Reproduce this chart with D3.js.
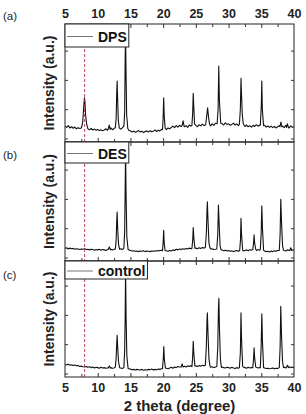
<!DOCTYPE html>
<html>
<head>
<meta charset="utf-8">
<script src="https://cdn.jsdelivr.net/npm/d3@7"></script>
<style>
  body { margin: 0; background: #fff; }
  text { font-family: "Liberation Sans", Arial, sans-serif; }
</style>
</head>
<body>
<svg id="chart"></svg>
<script>
// ---- data ----
const seriesNames = ['DPS', 'DES', 'control'];
const panelLetters = ['(a)', '(b)', '(c)'];
const xMajorTicks = [5, 10, 15, 20, 25, 30, 35, 40];
const xMinorTicks = [7.5, 12.5, 17.5, 22.5, 27.5, 32.5, 37.5];
const yTicks = [0, 1, 2, 3];
const markerTheta = 8;

// baseline intensity, one value every 0.25 deg from 5 to 40
const baseStart = 5, baseStep = 0.25;

const dpsBase = [
  .42,.38,.44,.36,.40,.35,.39,.33,.37,.34,.36,.40,.45,.38,.33,.30,.34,.29,.32,.28,
  .31,.27,.30,.26,.29,.33,.28,.31,.36,.30,.34,.40,.33,.29,.32,.36,.40,.38,.33,.28,
  .26,.22,.25,.21,.24,.27,.22,.25,.20,.24,.26,.22,.27,.23,.25,.29,.24,.28,.26,.31,
  .35,.32,.30,.36,.33,.38,.42,.37,.44,.39,.45,.41,.47,.40,.44,.38,.46,.42,.48,.43,
  .45,.40,.47,.43,.49,.44,.50,.46,.48,.43,.50,.45,.52,.47,.49,.44,.51,.46,.53,.48,
  .50,.45,.48,.52,.46,.50,.44,.49,.43,.47,.41,.46,.40,.44,.39,.45,.41,.47,.42,.46,
  .44,.40,.45,.39,.43,.38,.42,.37,.41,.36,.40,.44,.38,.42,.37,.45,.40,.36,.43,.38,
  .40
];
const dpsPeaks = [
  [[7.55,.40],[7.7,.55],[7.8,.85],[7.9,1.2],[7.97,1.39],[8.05,1.25],[8.15,.8],[8.3,.5],[8.45,.38]],
  [[11.6,.32],[11.75,.46],[11.9,.31]],
  [[12.7,.38],[12.82,.7],[12.9,1.5],[12.97,1.96],[13.05,1.3],[13.15,.6],[13.3,.36]],
  [[14.0,.42],[14.12,.9],[14.2,2.8],[14.26,3.5],[14.32,2.4],[14.42,.8],[14.6,.34]],
  [[19.9,.30],[20.0,.7],[20.08,1.39],[20.16,.8],[20.3,.36]],
  [[22.9,.44],[23.05,.6],[23.2,.42]],
  [[24.4,.45],[24.52,.9],[24.6,1.54],[24.68,1.1],[24.8,.5]],
  [[26.5,.47],[26.65,.75],[26.8,1.05],[26.95,.7],[27.1,.48]],
  [[28.25,.5],[28.4,1.0],[28.5,2.47],[28.6,1.3],[28.8,.52]],
  [[31.65,.48],[31.8,1.0],[31.9,2.05],[31.98,1.5],[32.1,.8],[32.25,.5]],
  [[34.85,.45],[35.0,1.1],[35.08,1.96],[35.16,1.0],[35.35,.44]],
  [[37.85,.40],[38.0,.56],[38.15,.40]],
  [[38.85,.38],[39.0,.5],[39.15,.37]]
];

const desBase = [
  .31,.33,.29,.32,.30,.31,.28,.30,.29,.27,.29,.28,.30,.27,.28,.26,.28,.27,.25,.27,
  .26,.28,.25,.27,.26,.24,.27,.25,.28,.26,.27,.25,.28,.26,.30,.27,.30,.32,.28,.26,
  .24,.22,.23,.21,.22,.20,.22,.21,.23,.20,.22,.21,.20,.22,.21,.23,.22,.24,.23,.25,
  .24,.22,.23,.21,.24,.22,.26,.24,.28,.26,.29,.27,.30,.28,.31,.29,.32,.30,.33,.31,
  .32,.30,.33,.31,.34,.32,.35,.33,.31,.29,.30,.27,.28,.25,.27,.24,.26,.23,.25,.22,
  .24,.21,.23,.20,.22,.24,.21,.23,.25,.22,.24,.26,.23,.27,.25,.28,.26,.24,.27,.25,
  .23,.21,.22,.20,.21,.19,.22,.20,.23,.21,.24,.22,.25,.27,.24,.22,.26,.24,.28,.25,
  .27
];
const desPeaks = [
  [[11.6,.27],[11.78,.36],[11.95,.26]],
  [[12.7,.30],[12.82,.6],[12.9,1.2],[12.97,1.55],[13.05,1.0],[13.18,.45],[13.35,.28]],
  [[14.0,.32],[14.12,.9],[14.2,2.4],[14.26,3.7],[14.33,2.2],[14.45,.7],[14.65,.27]],
  [[19.9,.23],[20.0,.5],[20.08,.93],[20.16,.5],[20.3,.23]],
  [[24.4,.31],[24.52,.6],[24.6,1.02],[24.68,.7],[24.85,.32]],
  [[26.45,.34],[26.6,.8],[26.7,1.6],[26.76,1.9],[26.85,1.3],[27.0,.5],[27.15,.33]],
  [[28.2,.29],[28.35,.8],[28.45,1.79],[28.55,1.2],[28.7,.4],[28.85,.26]],
  [[31.7,.24],[31.82,.6],[31.9,1.34],[31.98,.8],[32.15,.25]],
  [[33.7,.27],[33.82,.5],[33.9,.77],[33.98,.5],[34.15,.28]],
  [[34.85,.27],[34.98,.8],[35.08,1.76],[35.18,1.0],[35.35,.25]],
  [[37.75,.24],[37.88,.8],[37.98,1.99],[38.08,1.3],[38.25,.4],[38.4,.25]],
  [[39.35,.24],[39.5,.33],[39.65,.24]]
];

const controlBase = [
  .31,.29,.32,.28,.30,.27,.29,.26,.27,.24,.25,.23,.22,.24,.21,.23,.20,.22,.19,.21,
  .20,.18,.21,.19,.20,.18,.19,.17,.20,.18,.19,.21,.18,.20,.19,.17,.20,.22,.18,.16,
  .15,.13,.14,.12,.14,.13,.12,.14,.11,.13,.12,.14,.13,.15,.12,.14,.13,.15,.14,.16,
  .17,.15,.18,.16,.19,.21,.18,.22,.20,.24,.22,.26,.23,.25,.22,.26,.24,.27,.25,.28,
  .26,.24,.27,.25,.28,.26,.24,.22,.25,.21,.23,.20,.22,.19,.21,.18,.22,.20,.19,.21,
  .20,.18,.21,.19,.17,.20,.18,.21,.19,.22,.20,.18,.21,.19,.20,.22,.18,.21,.19,.20,
  .18,.16,.19,.17,.18,.16,.17,.19,.16,.18,.17,.19,.18,.20,.22,.19,.21,.23,.20,.22,
  .20
];
const controlPeaks = [
  [[11.6,.19],[11.78,.26],[11.95,.18]],
  [[12.7,.22],[12.82,.55],[12.9,1.0],[12.97,1.3],[13.05,.9],[13.18,.4],[13.35,.2]],
  [[14.0,.2],[14.12,.8],[14.2,2.0],[14.26,3.6],[14.33,2.0],[14.45,.6],[14.65,.16]],
  [[19.9,.16],[20.02,.5],[20.1,.92],[20.18,.5],[20.35,.18]],
  [[22.75,.22],[22.9,.33],[23.05,.22]],
  [[24.4,.23],[24.52,.6],[24.6,1.1],[24.68,.7],[24.85,.26]],
  [[26.45,.28],[26.6,.9],[26.7,1.8],[26.76,2.07],[26.85,1.4],[27.0,.5],[27.15,.27]],
  [[28.2,.24],[28.35,.9],[28.45,2.2],[28.52,2.57],[28.6,1.6],[28.75,.5],[28.9,.21]],
  [[31.65,.2],[31.8,.7],[31.9,2.07],[31.98,1.2],[32.15,.25]],
  [[33.7,.2],[33.82,.5],[33.9,.88],[33.98,.55],[34.15,.22]],
  [[34.85,.2],[34.98,.9],[35.08,2.04],[35.18,1.1],[35.35,.2]],
  [[37.75,.2],[37.88,.9],[37.98,2.29],[38.08,1.4],[38.25,.4],[38.4,.2]],
  [[38.85,.2],[39.0,.28],[39.15,.2]]
];

// ---- layout ----
const width = 306, height = 414;
const plotLeft = 65, plotRight = 294;
const panelTops = [24, 142, 261];
const panelBottoms = [142, 261, 377];
const pxPerUnit = 29.3;

// merge baseline and peak points into one trace
function buildTrace(base, peaks) {
  let pts = base.map((v, i) => [baseStart + i * baseStep, v]);
  peaks.forEach(pk => {
    let lo = pk[0][0], hi = pk[pk.length - 1][0];
    pts = pts.filter(p => p[0] < lo || p[0] > hi).concat(pk);
  });
  return pts.sort((a, b) => a[0] - b[0]);
}

const traces = [
  buildTrace(dpsBase, dpsPeaks),
  buildTrace(desBase, desPeaks),
  buildTrace(controlBase, controlPeaks)
];

const svg = d3.select('#chart')
    .attr('width', width)
    .attr('height', height);

const x = d3.scaleLinear()
    .domain([5, 40])
    .range([plotLeft, plotRight]);

const defs = svg.append('defs');

traces.forEach((trace, i) => {
  let top = panelTops[i], bottom = panelBottoms[i];
  let y = d3.scaleLinear()
      .domain([-0.12, (bottom - top) / pxPerUnit - 0.12])
      .range([bottom, top]);

  let g = svg.append('g');

  defs.append('clipPath')
      .attr('id', 'clip' + i)
    .append('rect')
      .attr('x', plotLeft)
      .attr('y', top)
      .attr('width', plotRight - plotLeft)
      .attr('height', bottom - top);

  // data line
  let line = d3.line()
      .x(d => x(d[0]))
      .y(d => y(d[1]));

  g.append('path')
      .datum(trace)
      .attr('clip-path', `url(#clip${i})`)
      .attr('fill', 'none')
      .attr('stroke', '#111')
      .attr('stroke-width', 1.1)
      .attr('stroke-linejoin', 'round')
      .attr('d', line);

  // frame
  g.append('rect')
      .attr('x', plotLeft)
      .attr('y', top)
      .attr('width', plotRight - plotLeft)
      .attr('height', bottom - top)
      .attr('fill', 'none')
      .attr('stroke', '#222')
      .attr('stroke-width', 1);

  // x ticks, top and bottom, pointing inward
  let tickAxis = (axisFn, pos, vals, size) => {
    let ax = g.append('g')
        .attr('transform', `translate(0,${pos})`)
        .call(axisFn(x).tickValues(vals).tickSizeInner(-size).tickSizeOuter(0).tickFormat(''));
    ax.select('.domain').remove();
    ax.selectAll('line').attr('stroke', '#333');
    return ax;
  };
  tickAxis(d3.axisTop, top, xMajorTicks.slice(1, -1), 4);
  tickAxis(d3.axisTop, top, xMinorTicks, 3);
  tickAxis(d3.axisBottom, bottom, xMajorTicks.slice(1, -1), 4);
  tickAxis(d3.axisBottom, bottom, xMinorTicks, 3);

  // y ticks, left and right, no labels
  [[d3.axisLeft, plotLeft], [d3.axisRight, plotRight]].forEach(([fn, pos]) => {
    let ax = g.append('g')
        .attr('transform', `translate(${pos},0)`)
        .call(fn(y).tickValues(yTicks).tickSizeInner(-3).tickSizeOuter(0).tickFormat(''));
    ax.select('.domain').remove();
    ax.selectAll('line').attr('stroke', '#333');
  });

  // y axis title
  g.append('text')
      .attr('transform', `translate(53.5,${(top + bottom) / 2}) rotate(-90)`)
      .attr('text-anchor', 'middle')
      .attr('font-size', '14px')
      .attr('font-weight', 'bold')
      .attr('fill', '#222')
      .text('Intensity (a.u.)');

  // panel letter
  g.append('text')
      .attr('x', 3)
      .attr('y', [20, 159, 279][i])
      .attr('font-family', '"Liberation Serif", "Times New Roman", serif')
      .attr('font-size', '11.5px')
      .attr('fill', '#222')
      .text(panelLetters[i]);
});

// dashed reference line at 8 deg
svg.append('line')
    .attr('x1', x(markerTheta))
    .attr('x2', x(markerTheta))
    .attr('y1', panelTops[0])
    .attr('y2', panelBottoms[2])
    .attr('stroke', '#b03040')
    .attr('stroke-width', 0.9)
    .attr('stroke-dasharray', '3,2');

// legends (opaque boxes on top)
const legendHeights = [23, 21, 18];
seriesNames.forEach((name, i) => {
  let top = panelTops[i];
  let lg = svg.append('g');
  let box = lg.append('rect')
      .attr('x', plotLeft)
      .attr('y', top)
      .attr('height', legendHeights[i])
      .attr('fill', '#fff')
      .attr('stroke', '#222')
      .attr('stroke-width', 1);
  let cy = top + legendHeights[i] / 2 + 1;
  lg.append('line')
      .attr('x1', 67).attr('x2', 93)
      .attr('y1', cy).attr('y2', cy)
      .attr('stroke', '#777')
      .attr('stroke-width', 1);
  let t = lg.append('text')
      .attr('x', 98)
      .attr('y', cy + 5)
      .attr('font-size', '14px')
      .attr('font-weight', 'bold')
      .attr('fill', '#111')
      .text(name);
  box.attr('width', 98 + t.node().getComputedTextLength() + 2 - plotLeft);
});

// top and bottom tick labels
const labelTop = svg.append('g')
    .attr('transform', `translate(0,${panelTops[0]})`)
    .call(d3.axisTop(x).tickValues(xMajorTicks).tickSize(0).tickPadding(6.5));
const labelBottom = svg.append('g')
    .attr('transform', `translate(0,${panelBottoms[2]})`)
    .call(d3.axisBottom(x).tickValues(xMajorTicks).tickSize(0).tickPadding(6.5));
[labelTop, labelBottom].forEach(ax => {
  ax.select('.domain').remove();
  ax.selectAll('text')
      .attr('font-family', '"Liberation Sans", Arial, sans-serif')
      .attr('font-size', '12.5px')
      .attr('font-weight', 'bold')
      .attr('fill', '#222');
});

// x axis title
svg.append('text')
    .attr('x', (plotLeft + plotRight) / 2)
    .attr('y', 411)
    .attr('text-anchor', 'middle')
    .attr('font-size', '15px')
    .attr('font-weight', 'bold')
    .attr('fill', '#222')
    .text('2 theta (degree)');
</script>
</body>
</html>
